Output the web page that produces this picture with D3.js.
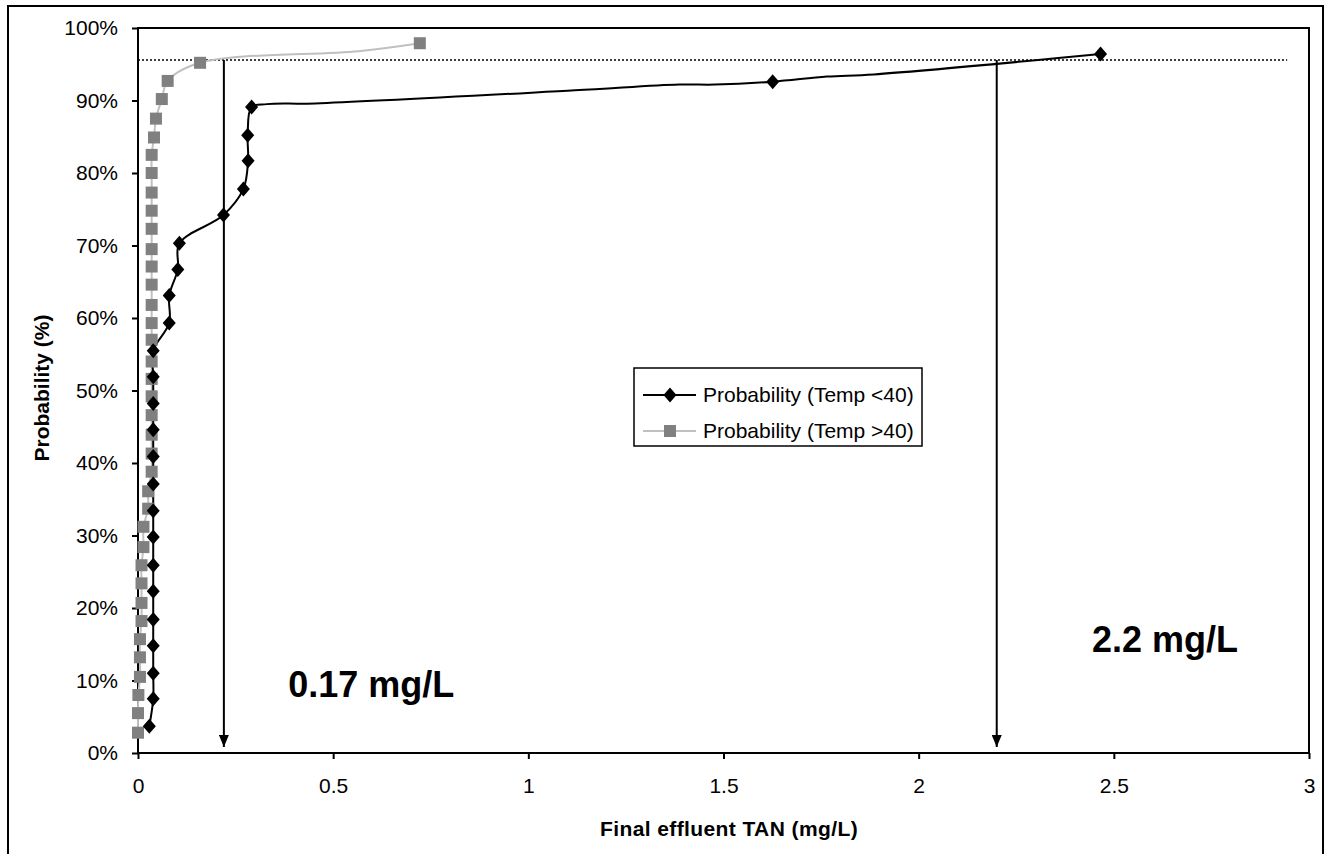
<!DOCTYPE html>
<html>
<head>
<meta charset="utf-8">
<script src="https://cdn.jsdelivr.net/npm/d3@7"></script>
<style>
  body { margin: 0; background: #fff; }
  text { font-family: "Liberation Sans", Arial, sans-serif; }
</style>
</head>
<body>
<svg id="chart" width="1329" height="854"></svg>
<script>
// axis ticks
var xTicks = [0, 0.5, 1, 1.5, 2, 2.5, 3];
var yTicks = [0, 10, 20, 30, 40, 50, 60, 70, 80, 90, 100];

// Probability (Temp <40) - marked points
var lowX = [0.029, 0.039, 0.039, 0.039, 0.039, 0.039, 0.039, 0.039, 0.039, 0.039, 0.039, 0.039, 0.039,
  0.039, 0.039, 0.080, 0.080, 0.102, 0.106, 0.219, 0.270, 0.282, 0.281, 0.291, 1.626, 2.466];
var lowP = [3.7, 7.5, 11.0, 14.8, 18.4, 22.3, 25.9, 29.8, 33.4, 37.1, 40.9, 44.6, 48.2,
  51.9, 55.5, 59.3, 63.1, 66.7, 70.3, 74.2, 77.8, 81.7, 85.2, 89.1, 92.6, 96.4];
// extra vertices of the drawn line (no marker)
var lowLineX = [0.33, 0.454, 1.119, 1.386, 1.478, 1.765, 1.885];
var lowLineP = [89.5, 89.6, 91.4, 92.2, 92.2, 93.3, 93.6];

// Probability (Temp >40)
var highX = [0.0, 0.0, 0.001, 0.005, 0.005, 0.005, 0.009, 0.009, 0.009, 0.009, 0.014, 0.014, 0.026,
  0.026, 0.035, 0.035, 0.035, 0.035, 0.035, 0.035, 0.035, 0.035, 0.035, 0.035, 0.035, 0.035,
  0.035, 0.035, 0.035, 0.035, 0.035, 0.035, 0.041, 0.046, 0.061, 0.076, 0.159, 0.722];
var highP = [2.8, 5.5, 8.0, 10.5, 13.2, 15.7, 18.2, 20.7, 23.4, 25.9, 28.4, 31.2, 33.7,
  36.1, 38.8, 41.3, 43.9, 46.6, 49.2, 51.6, 54.0, 57.0, 59.3, 61.8, 64.6, 67.1,
  69.5, 72.3, 74.8, 77.3, 80.0, 82.5, 84.9, 87.5, 90.2, 92.7, 95.2, 97.9];
var highLineX = [0.565];
var highLineP = [96.8];

// 95th percentile guide and arrows
var cutoffP = 95.6;
var cutoffEnd = 2.944;
var arrowX = [0.22, 2.2];
var noteText = ['0.17 mg/L', '2.2 mg/L'];
var noteX = [0.385, 2.444];
var noteP = [7.7, 13.9];

var legendNames = ['Probability (Temp <40)', 'Probability (Temp >40)'];

var svg = d3.select('#chart');

var x = d3.scaleLinear().domain([0, 3]).range([138, 1309]);
var y = d3.scaleLinear().domain([0, 100]).range([753, 28]);

// outer border
svg.append('rect')
  .attr('x', 8).attr('y', 6).attr('width', 1315).attr('height', 860)
  .attr('fill', 'none').attr('stroke', '#000').attr('stroke-width', 2);

svg.append('defs').append('marker')
  .attr('id', 'head')
  .attr('viewBox', '0 0 12 10')
  .attr('refX', 12).attr('refY', 5)
  .attr('markerWidth', 12).attr('markerHeight', 10)
  .attr('markerUnits', 'userSpaceOnUse')
  .attr('orient', 'auto')
  .append('path')
  .attr('d', 'M0,0L12,5L0,10Z')
  .attr('fill', '#000');

// plot frame
svg.append('rect')
  .attr('x', x(0)).attr('y', y(100))
  .attr('width', x(3) - x(0)).attr('height', y(0) - y(100))
  .attr('fill', 'none').attr('stroke', '#000').attr('stroke-width', 2);

var xAxis = d3.axisBottom(x).tickValues(xTicks).tickSizeInner(6).tickSizeOuter(0).tickPadding(19)
  .tickFormat(d => String(d));
var gx = svg.append('g').attr('transform', `translate(0, ${y(0)})`).call(xAxis);
gx.select('.domain').remove();

var yAxis = d3.axisLeft(y).tickValues(yTicks).tickSizeInner(6).tickSizeOuter(0).tickPadding(14)
  .tickFormat(d => d + '%');
var gy = svg.append('g').attr('transform', `translate(${x(0)}, 0)`).call(yAxis);
gy.select('.domain').remove();

[gx, gy].forEach(function(g) {
  g.selectAll('line').attr('stroke', '#000').attr('stroke-width', 2);
  g.selectAll('text').attr('font-size', 21).attr('fill', '#000')
    .style('font-family', '"Liberation Sans", Arial, sans-serif');
});

// axis titles
svg.append('text')
  .attr('x', 729).attr('y', 836)
  .attr('text-anchor', 'middle')
  .attr('font-size', 21).attr('font-weight', 'bold')
  .attr('letter-spacing', 0.4)
  .text('Final effluent TAN (mg/L)');

svg.append('text')
  .attr('transform', 'translate(49, 388) rotate(-90)')
  .attr('text-anchor', 'middle')
  .attr('font-size', 21).attr('font-weight', 'bold')
  .text('Probability (%)');

// dotted 95% guide
svg.append('line')
  .attr('x1', x(0)).attr('x2', x(cutoffEnd))
  .attr('y1', y(cutoffP)).attr('y2', y(cutoffP))
  .attr('stroke', '#000').attr('stroke-width', 1.5).attr('stroke-dasharray', '2,2');

// arrows
svg.selectAll('.arrow').data(arrowX).enter().append('line')
  .attr('class', 'arrow')
  .attr('x1', d => x(d)).attr('x2', d => x(d))
  .attr('y1', y(cutoffP)).attr('y2', y(0) - 6)
  .attr('stroke', '#000').attr('stroke-width', 2)
  .attr('marker-end', 'url(#head)');

// series lines
function mergePts(xs, ps, lx, lp) {
  var pts = xs.map((v, i) => [v, ps[i]]);
  lx.forEach((v, i) => pts.push([v, lp[i]]));
  pts.sort((a, b) => a[1] - b[1]);
  return pts;
}

var line = d3.line()
  .x(d => x(d[0]))
  .y(d => y(d[1]))
  .curve(d3.curveCatmullRom.alpha(0.5));

svg.append('path')
  .datum(mergePts(highX, highP, highLineX, highLineP))
  .attr('d', line)
  .attr('fill', 'none').attr('stroke', '#c0c0c0').attr('stroke-width', 2);

svg.append('path')
  .datum(mergePts(lowX, lowP, lowLineX, lowLineP))
  .attr('d', line)
  .attr('fill', 'none').attr('stroke', '#000').attr('stroke-width', 2);

var diamond = 'M0,-7.5L6.5,0L0,7.5L-6.5,0Z';

svg.selectAll('.sq').data(highX).enter().append('rect')
  .attr('class', 'sq')
  .attr('x', d => x(d) - 6)
  .attr('y', (d, i) => y(highP[i]) - 6)
  .attr('width', 12).attr('height', 12)
  .attr('fill', '#808080');

svg.selectAll('.dm').data(lowX).enter().append('path')
  .attr('class', 'dm')
  .attr('d', diamond)
  .attr('transform', (d, i) => `translate(${x(d)}, ${y(lowP[i])})`)
  .attr('fill', '#000');

// annotations
svg.selectAll('.note').data(noteText).enter().append('text')
  .attr('class', 'note')
  .attr('x', (d, i) => x(noteX[i]))
  .attr('y', (d, i) => y(noteP[i]))
  .attr('font-size', 36).attr('font-weight', 'bold')
  .text(d => d);

// legend
var lg = svg.append('g').attr('transform', 'translate(634, 368)');
lg.append('rect')
  .attr('width', 288).attr('height', 78)
  .attr('fill', '#fff').attr('stroke', '#000').attr('stroke-width', 1.5);

var legColors = ['#000', '#c0c0c0'];
var legRows = [27, 63];
legendNames.forEach(function(name, i) {
  lg.append('line')
    .attr('x1', 9).attr('x2', 62).attr('y1', legRows[i]).attr('y2', legRows[i])
    .attr('stroke', legColors[i]).attr('stroke-width', 2);
  if (i == 0) {
    lg.append('path').attr('d', diamond)
      .attr('transform', `translate(36, ${legRows[i]})`).attr('fill', '#000');
  } else {
    lg.append('rect').attr('x', 30).attr('y', legRows[i] - 6)
      .attr('width', 12).attr('height', 12).attr('fill', '#808080');
  }
  lg.append('text')
    .attr('x', 69).attr('y', legRows[i])
    .attr('dy', '0.35em')
    .attr('font-size', 21)
    .text(name);
});
</script>
</body>
</html>
